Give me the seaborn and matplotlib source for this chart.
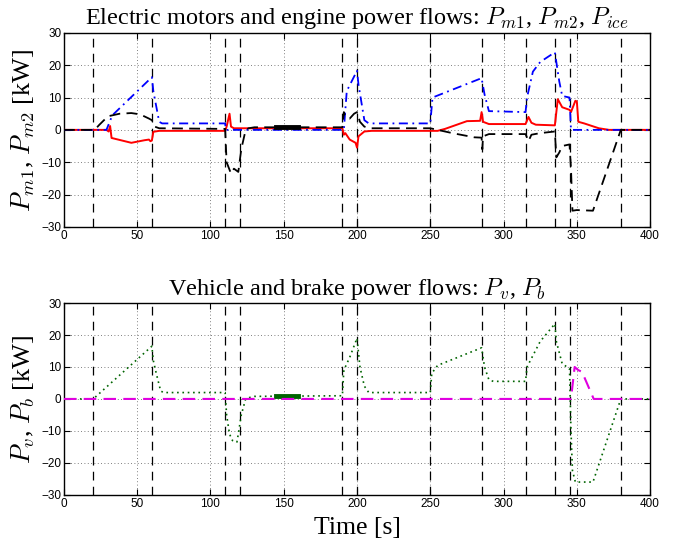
import matplotlib
matplotlib.use("Agg")
import matplotlib.pyplot as plt
import seaborn as sns
import pandas as pd

# ---- data (time [s], power [kW]) ----
t_ice = [0, 29, 33, 60, 61, 65, 67, 110, 110.5, 190, 191, 193, 200, 201, 205, 208, 250, 251.5,
         285, 287, 290, 315, 316, 320, 325, 335, 338, 340, 345, 346, 400]
p_ice = [0, 0, 4.5, 16.3, 12, 2.5, 2, 2, 0, 0, 0, 12, 18.3, 14, 3, 2, 2, 10,
         16, 11, 5.8, 5.5, 10, 18, 21, 24, 15, 10.5, 10, 0, 0]

t_m1 = [0, 29, 30.5, 31.5, 32.5, 46, 55, 58, 59, 60, 61, 65, 110, 111, 113, 114, 116, 190, 191,
        192, 195, 199, 200, 201, 205, 210, 255, 260, 275, 284, 285, 286, 290, 315, 317, 319, 322,
        335, 337, 340, 345, 346, 349, 350, 351, 355, 365, 372, 400]
p_m1 = [0, 0, -0.5, 1.2, -2.5, -4, -3.2, -3, -3.5, -3.3, -0.6, -0.3, -0.3, 1, 5, 1, 0.5, 0.5, -1.5,
        -1, -3, -4, -5.5, -2, -0.5, -0.3, -0.3, 0.3, 2.7, 2.8, 5.5, 2.5, 1.8, 1.8, 4, 2.2, 1.6,
        1.4, 9.5, 7, 6.2, 5.5, 9, 8.8, 2.5, 2, 0.5, 0, 0]

t_m2 = [0, 21, 24, 30, 38, 46, 52, 58, 60, 62, 65, 110, 111, 114, 116, 119, 121, 124, 126, 130,
        190, 191, 192, 195, 198, 200, 202, 205, 210, 250, 255, 265, 280, 285, 285.5, 286, 290, 315,
        317, 319, 325, 335, 336, 338, 340, 345, 346, 347, 350, 361, 380, 400]
p_m2 = [0, 0, 1.5, 4.2, 5, 5.2, 4.8, 3.5, 3, 1, 0.5, 0.3, -10, -13.5, -12, -13, -6, 0, 0.5, 0.8,
        0.8, 5.5, 4, 3.5, 5, 5.5, 2.5, 1, 0.5, 0.5, 0, -1, -2.3, -2.4, -6, -2, -1.3, -1.3,
        -3.5, -1.5, -1, -0.5, -8.5, -7, -5, -4.5, -12, -25, -24.8, -25, 0, 0]

t_m2_bold = [145, 160]
p_m2_bold = [0.8, 0.8]

t_v = [0, 20, 60, 61, 63, 66, 68, 110, 111, 113, 115, 118, 119, 121, 124, 127, 130, 190, 191,
       195, 200, 202, 205, 208, 250, 251, 255, 285, 287, 290, 293, 315, 316, 325, 335, 336, 340,
       345, 346, 347, 349, 361, 380, 400]
p_v = [0, 0, 16.5, 12, 8, 2.5, 2, 2, -5, -11, -13, -13.5, -11, -5, 0, 0.5, 0.8, 1, 9,
       13, 19, 10, 4, 2, 2, 8, 10.5, 16, 10, 6, 5.5, 5.5, 10, 18, 23.5, 18, 11,
       9.5, -10, -22.4, -26, -26, 0, 0]

t_v_bold = [145, 160]
p_v_bold = [0.8, 0.8]

t_b = [0, 346, 348.5, 351, 353.5, 361.5, 400]
p_b = [0, 0, 10, 9, 8.5, 0, 0]

events = [20, 60, 110, 120, 190, 200, 250, 285, 315, 335, 345, 380]
x_ticks = [0, 50, 100, 150, 200, 250, 300, 350, 400]
y_ticks = [-30, -20, -10, 0, 10, 20, 30]

# ---- style ----
plt.rcParams['mathtext.fontset'] = 'cm'
serif = ['Liberation Serif', 'DejaVu Serif']
sans = ['Liberation Sans', 'DejaVu Sans']

fig = plt.figure(figsize=(6.73, 5.48), dpi=100)
ax1 = fig.add_axes([0.095, 0.586, 0.871, 0.354])
ax2 = fig.add_axes([0.095, 0.097, 0.871, 0.350])


def df(t, p):
    return pd.DataFrame({"t": t, "p": p})


def style_axes(ax):
    ax.set_xlim(0, 400)
    ax.set_ylim(-30, 30)
    ax.set_xticks(x_ticks)
    ax.set_yticks(y_ticks)
    ax.set_xticklabels([str(v) for v in x_ticks], fontfamily=sans, fontsize=8.5)
    ax.set_yticklabels([str(v).replace('-', '\u2212') for v in y_ticks], fontfamily=sans, fontsize=8.5)
    ax.tick_params(direction='in', top=True, right=True, length=4, width=0.8, pad=2)
    for s in ax.spines.values():
        s.set_linewidth(1.0)
        s.set_color('black')
    for v in x_ticks[1:-1]:
        ax.axvline(v, color='#555555', lw=0.6, ls=(0, (1, 3)), zorder=0)
    for v in y_ticks[1:-1]:
        ax.axhline(v, color='#555555', lw=0.6, ls=(0, (1, 3)), zorder=0)
    for e in events:
        ax.axvline(e, color='black', lw=0.9, ls=(0, (7, 5)), zorder=1)
    ax.set_xlabel('')
    ax.set_ylabel('')
    ax.set_facecolor('white')


# top panel
sns.lineplot(data=df(t_m1, p_m1), x='t', y='p', ax=ax1, color='red', lw=1.4,
             estimator=None, sort=False, zorder=3)
sns.lineplot(data=df(t_ice, p_ice), x='t', y='p', ax=ax1, color='blue', lw=1.3,
             linestyle=(0, (5, 2.5, 1, 2.5)), estimator=None, sort=False, zorder=4)
sns.lineplot(data=df(t_m2, p_m2), x='t', y='p', ax=ax1, color='black', lw=1.3,
             linestyle=(0, (6, 3.5)), estimator=None, sort=False, zorder=5)
sns.lineplot(data=df(t_m2_bold, p_m2_bold), x='t', y='p', ax=ax1, color='black', lw=3.5,
             estimator=None, sort=False, zorder=5)
style_axes(ax1)
ax1.set_title('Electric motors and engine power flows: $P_{m1}$, $P_{m2}$, $P_{ice}$',
              fontfamily=serif, fontsize=17.5, pad=6.5)
ax1.set_ylabel('$P_{m1}$, $P_{m2}$ [kW]', fontfamily=serif, fontsize=19, labelpad=3)

# bottom panel
sns.lineplot(data=df(t_v, p_v), x='t', y='p', ax=ax2, color='#006400', lw=1.2,
             linestyle=(0, (1, 2.2)), estimator=None, sort=False, zorder=3)
sns.lineplot(data=df(t_v_bold, p_v_bold), x='t', y='p', ax=ax2, color='#006400', lw=3.5,
             estimator=None, sort=False, zorder=3)
sns.lineplot(data=df(t_b, p_b), x='t', y='p', ax=ax2, color='#e000e0', lw=1.5,
             linestyle=(0, (6, 3.5)), estimator=None, sort=False, zorder=4)
style_axes(ax2)
ax2.set_title('Vehicle and brake power flows: $P_v$, $P_b$', fontfamily=serif, fontsize=17.5, pad=6)
ax2.set_ylabel('$P_v$, $P_b$ [kW]', fontfamily=serif, fontsize=19, labelpad=3)
ax2.set_xlabel('Time [s]', fontfamily=serif, fontsize=18.5, labelpad=5)

fig.savefig('out.png', dpi=100, facecolor='white')
